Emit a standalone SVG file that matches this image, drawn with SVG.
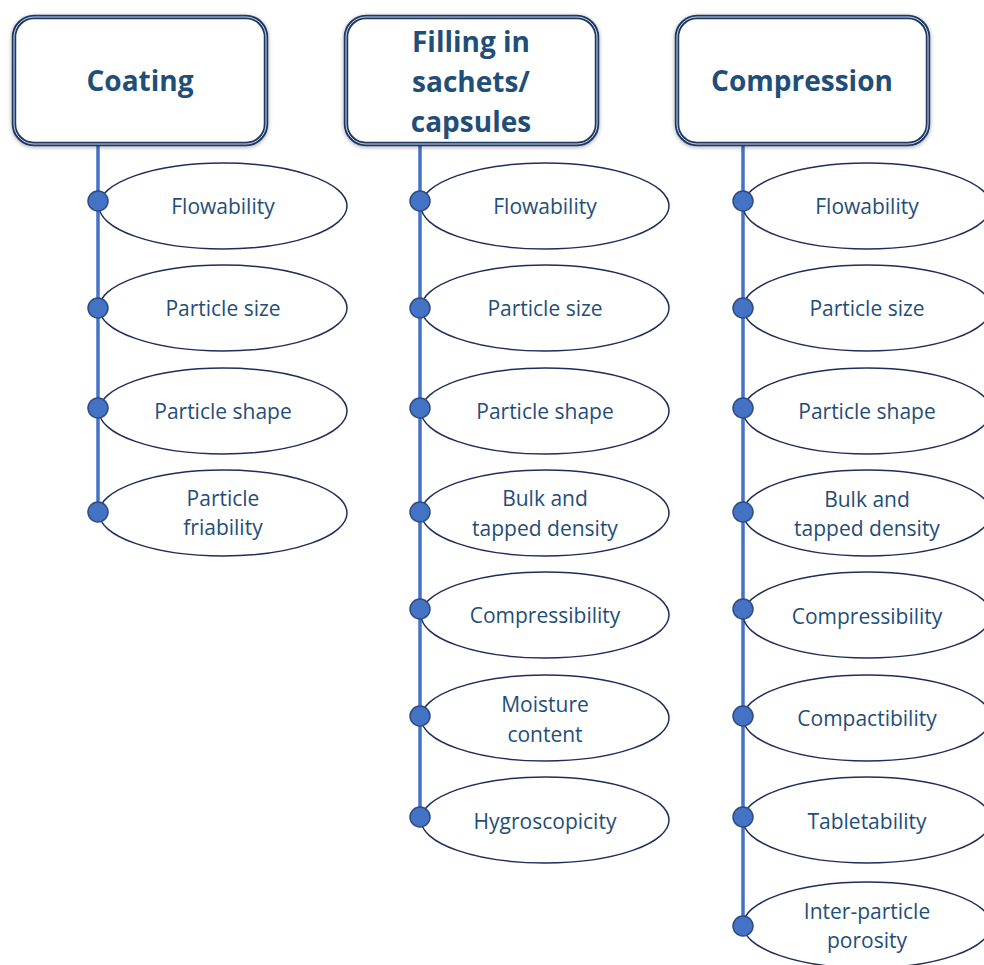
<svg xmlns="http://www.w3.org/2000/svg" width="984" height="965" viewBox="0 0 984 965">
<defs>
<filter id="sh" x="-10%" y="-10%" width="120%" height="130%">
<feGaussianBlur in="SourceAlpha" stdDeviation="2"/>
<feOffset dx="0" dy="1"/>
<feComponentTransfer><feFuncA type="linear" slope="0.35"/></feComponentTransfer>
<feMerge><feMergeNode/><feMergeNode in="SourceGraphic"/></feMerge>
</filter>
</defs>
<style>
.box{fill:#fff;stroke:#1f3864;stroke-width:4.5}
.boxin{fill:none;stroke:#c9d5ec;stroke-width:1}
.ttl{font-family:"Open Sans","Liberation Sans",sans-serif;font-weight:bold;font-size:28px;fill:#1f4e79;text-anchor:middle}
.ell{fill:#fff;stroke:#1f2d5a;stroke-width:1.5}
.lbl{font-family:"Open Sans","Liberation Sans",sans-serif;font-size:21px;fill:#1f4e79;text-anchor:middle}
.ln{stroke:#4472c4;stroke-width:3.5;fill:none}
.dot{fill:#4472c4;stroke:#2f4b85;stroke-width:1.5}
</style>
<rect width="984" height="965" fill="#fff"/>

<g id="connectors">
<line class="ln" x1="98" y1="145" x2="98" y2="512"/>
<line class="ln" x1="420" y1="145" x2="420" y2="818"/>
<line class="ln" x1="743" y1="145" x2="743" y2="926"/>
</g>

<g id="coating">
<rect class="box" x="14" y="17" width="252" height="127" rx="20" filter="url(#sh)"/>
<rect class="boxin" x="14" y="17" width="252" height="127" rx="20"/>
<text class="ttl" x="140" y="91">Coating</text>
</g>
<g id="filling">
<rect class="box" x="346" y="17" width="251" height="127" rx="20" filter="url(#sh)"/>
<rect class="boxin" x="346" y="17" width="251" height="127" rx="20"/>
<text class="ttl" x="471" y="52">Filling in</text>
<text class="ttl" x="471" y="92">sachets/</text>
<text class="ttl" x="471" y="132">capsules</text>
</g>
<g id="compression">
<rect class="box" x="677" y="17" width="251" height="127" rx="20" filter="url(#sh)"/>
<rect class="boxin" x="677" y="17" width="251" height="127" rx="20"/>
<text class="ttl" x="802" y="91">Compression</text>
</g>

<!-- Coating column -->
<g id="c1-flow"><ellipse class="ell" cx="223" cy="206" rx="124" ry="43"/><circle class="dot" cx="98" cy="201" r="10"/><text class="lbl" x="223" y="214">Flowability</text></g>
<g id="c1-size"><ellipse class="ell" cx="223" cy="308" rx="124" ry="43"/><circle class="dot" cx="98" cy="308" r="10"/><text class="lbl" x="223" y="316">Particle size</text></g>
<g id="c1-shape"><ellipse class="ell" cx="223" cy="411" rx="124" ry="43"/><circle class="dot" cx="98" cy="408" r="10"/><text class="lbl" x="223" y="419">Particle shape</text></g>
<g id="c1-friab"><ellipse class="ell" cx="223" cy="513" rx="124" ry="43"/><circle class="dot" cx="98" cy="512" r="10"/><text class="lbl" x="223" y="506">Particle</text><text class="lbl" x="223" y="535">friability</text></g>

<!-- Filling column -->
<g id="c2-flow"><ellipse class="ell" cx="545" cy="206" rx="124" ry="43"/><circle class="dot" cx="420" cy="201" r="10"/><text class="lbl" x="545" y="214">Flowability</text></g>
<g id="c2-size"><ellipse class="ell" cx="545" cy="308" rx="124" ry="43"/><circle class="dot" cx="420" cy="308" r="10"/><text class="lbl" x="545" y="316">Particle size</text></g>
<g id="c2-shape"><ellipse class="ell" cx="545" cy="411" rx="124" ry="43"/><circle class="dot" cx="420" cy="408" r="10"/><text class="lbl" x="545" y="419">Particle shape</text></g>
<g id="c2-bulk"><ellipse class="ell" cx="545" cy="513" rx="124" ry="43"/><circle class="dot" cx="420" cy="512" r="10"/><text class="lbl" x="545" y="506">Bulk and</text><text class="lbl" x="545" y="536">tapped density</text></g>
<g id="c2-comp"><ellipse class="ell" cx="545" cy="615" rx="124" ry="43"/><circle class="dot" cx="420" cy="609" r="10"/><text class="lbl" x="545" y="623">Compressibility</text></g>
<g id="c2-moist"><ellipse class="ell" cx="545" cy="718" rx="124" ry="43"/><circle class="dot" cx="420" cy="716" r="10"/><text class="lbl" x="545" y="712">Moisture</text><text class="lbl" x="545" y="742">content</text></g>
<g id="c2-hygro"><ellipse class="ell" cx="545" cy="820" rx="124" ry="43"/><circle class="dot" cx="420" cy="817" r="10"/><text class="lbl" x="545" y="829">Hygroscopicity</text></g>

<!-- Compression column -->
<g id="c3-flow"><ellipse class="ell" cx="867" cy="206" rx="124" ry="43"/><circle class="dot" cx="743" cy="201" r="10"/><text class="lbl" x="867" y="214">Flowability</text></g>
<g id="c3-size"><ellipse class="ell" cx="867" cy="308" rx="124" ry="43"/><circle class="dot" cx="743" cy="308" r="10"/><text class="lbl" x="867" y="316">Particle size</text></g>
<g id="c3-shape"><ellipse class="ell" cx="867" cy="411" rx="124" ry="43"/><circle class="dot" cx="743" cy="408" r="10"/><text class="lbl" x="867" y="419">Particle shape</text></g>
<g id="c3-bulk"><ellipse class="ell" cx="867" cy="513" rx="124" ry="43"/><circle class="dot" cx="743" cy="512" r="10"/><text class="lbl" x="867" y="507">Bulk and</text><text class="lbl" x="867" y="536">tapped density</text></g>
<g id="c3-comp"><ellipse class="ell" cx="867" cy="615" rx="124" ry="43"/><circle class="dot" cx="743" cy="609" r="10"/><text class="lbl" x="867" y="624">Compressibility</text></g>
<g id="c3-compact"><ellipse class="ell" cx="867" cy="718" rx="124" ry="43"/><circle class="dot" cx="743" cy="716" r="10"/><text class="lbl" x="867" y="726">Compactibility</text></g>
<g id="c3-tab"><ellipse class="ell" cx="867" cy="820" rx="124" ry="43"/><circle class="dot" cx="743" cy="817" r="10"/><text class="lbl" x="867" y="829">Tabletability</text></g>
<g id="c3-inter"><ellipse class="ell" cx="867" cy="925" rx="124" ry="43"/><circle class="dot" cx="743" cy="926" r="10"/><text class="lbl" x="867" y="919">Inter-particle</text><text class="lbl" x="867" y="948">porosity</text></g>
</svg>
